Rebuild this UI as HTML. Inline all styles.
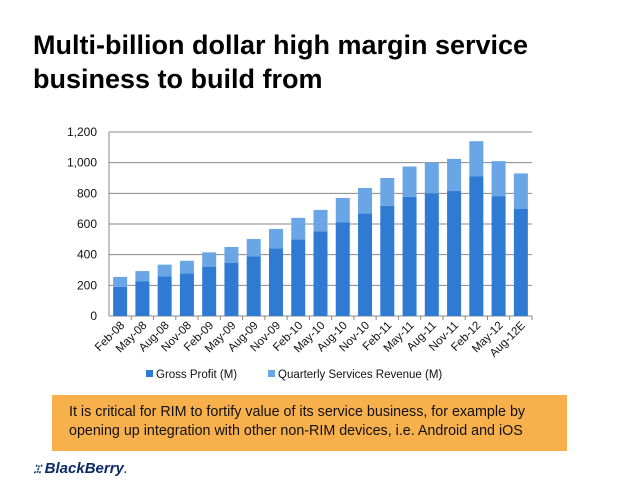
<!DOCTYPE html>
<html><head><meta charset="utf-8"><style>
body{margin:0;width:638px;height:493px;background:#fff;font-family:"Liberation Sans",Arial,sans-serif;overflow:hidden;position:relative}
#title{position:absolute;left:33px;top:28px;font-size:27px;font-weight:bold;line-height:34px;color:#000}
#note{position:absolute;left:52px;top:395px;width:515px;height:56px;background:#f8b04c;box-sizing:border-box;padding:8px 0 0 17px;font-size:14.3px;line-height:19px;color:#111}
#logo{position:absolute;left:33px;top:460px;font-size:15px;font-style:italic;font-weight:bold;color:#0a2a6a}
</style></head><body>
<div id="title">Multi-billion dollar high margin service<br>business to build from</div>
<svg id="chart" width="638" height="493" style="position:absolute;left:0;top:0"></svg>
<div id="note">It is critical for RIM to fortify value of its service business, for example by<br>opening up integration with other non-RIM devices, i.e. Android and iOS</div>
<div id="logo"><span style="font-size:11px;letter-spacing:-1px">⁚⁝⁚</span> BlackBerry<span style="font-weight:normal">.</span></div>
<script>
const categories=["Feb-08","May-08","Aug-08","Nov-08","Feb-09","May-09","Aug-09","Nov-09","Feb-10","May-10","Aug-10","Nov-10","Feb-11","May-11","Aug-11","Nov-11","Feb-12","May-12","Aug-12E"];
const grossProfit=[190,225,258,278,322,348,390,440,500,553,612,668,718,778,800,815,912,782,700];
const servicesRevenue=[65,68,77,82,93,102,112,128,140,139,158,167,182,197,200,210,228,228,230];
const yTicks=[0,200,400,600,800,1000,1200];
const tickLabels=["0","200","400","600","800","1,000","1,200"];
const svg=document.getElementById('chart');const NS="http://www.w3.org/2000/svg";
const x0=109,x1=532,y0=316,y1=132,yMax=1200;
const y=v=>y0-(v/yMax)*(y0-y1);
const band=(x1-x0)/categories.length;
const xc=i=>x0+band*(i+0.5);
function mk(t,a,p){const e=document.createElementNS(NS,t);for(const k in a)e.setAttribute(k,a[k]);(p||svg).appendChild(e);return e;}
yTicks.forEach((v,i)=>{
const g=mk('line',{x1:x0,x2:x1,y1:y(v),y2:y(v),stroke:'#888','stroke-width':1});


const t=mk('text',{x:x0-12,y:y(v)+4,'text-anchor':'end','font-size':12,fill:'#111','font-family':'Liberation Sans'});
t.textContent=tickLabels[i];


});
mk('line',{x1:x0,x2:x0,y1:y1,y2:y0,stroke:'#888'});
categories.forEach((c,i)=>{
const bw=14,bx=xc(i)-bw/2;
const r1=mk('rect',{x:bx,y:y(grossProfit[i]),width:bw,height:y0-y(grossProfit[i]),fill:'#2f7bd3'});


const tot=grossProfit[i]+servicesRevenue[i];
const r2=mk('rect',{x:bx,y:y(tot),width:bw,height:y(grossProfit[i])-y(tot),fill:'#6aa6e6'});


mk('line',{x1:x0+band*(i+1),x2:x0+band*(i+1),y1:y0,y2:y0+4,stroke:'#888'});
const t=mk('text',{x:xc(i)+5,y:y0+10,'text-anchor':'end','font-size':11.5,fill:'#111','font-family':'Liberation Sans',transform:`rotate(-45 ${xc(i)+5} ${y0+10})`});
t.textContent=c;


});
const l1=mk('rect',{x:146,y:370,width:7,height:7,fill:'#2f7bd3'});


const lt1=mk('text',{x:156,y:378,'font-size':11.5,fill:'#111','font-family':'Liberation Sans'});lt1.textContent='Gross Profit (M)';


const l2=mk('rect',{x:268,y:370,width:7,height:7,fill:'#6aa6e6'});


const lt2=mk('text',{x:278,y:378,'font-size':11.5,fill:'#111','font-family':'Liberation Sans'});lt2.textContent='Quarterly Services Revenue (M)';


</script>
</body></html>
